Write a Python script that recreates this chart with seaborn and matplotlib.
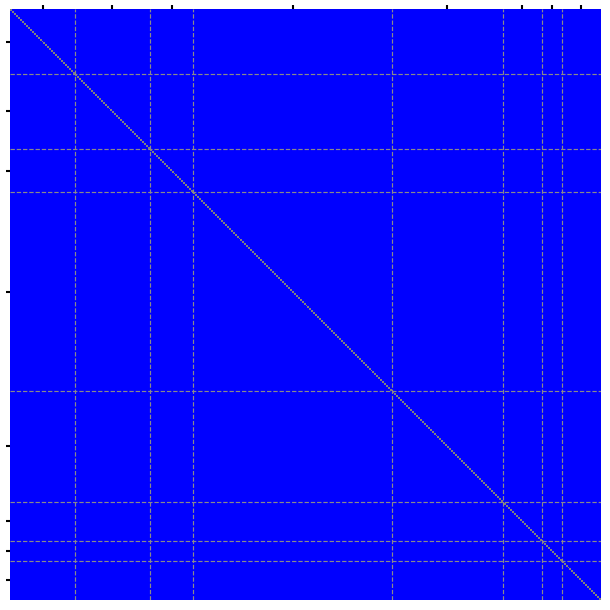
import numpy as np
import matplotlib
matplotlib.use("Agg")
import matplotlib.pyplot as plt
from matplotlib.colors import ListedColormap
import seaborn as sns

# Block (group) sizes along both axes
group_sizes = [33, 38, 22, 101, 56, 20, 10, 20]
# Colours: off-diagonal value 0, diagonal value 1
cell_colors = ["#0000ff", "#808080"]

n = sum(group_sizes)
matrix = np.eye(n)

bounds = np.cumsum(group_sizes)
starts = np.concatenate([[0], bounds[:-1]])
centers = (starts + bounds) / 2.0

fig = plt.figure(figsize=(6.1, 6.1), dpi=100)
ax = fig.add_axes([10 / 610, 10 / 610, 591 / 610, 591 / 610])

sns.heatmap(matrix, cmap=ListedColormap(cell_colors), vmin=0, vmax=1,
            cbar=False, ax=ax, xticklabels=False, yticklabels=False,
            square=False)

for b in bounds[:-1]:
    ax.axvline(b, color="#8a8a8a", linestyle="--", linewidth=0.85)
    ax.axhline(b, color="#8a8a8a", linestyle="--", linewidth=0.85)

ax.set_xticks(centers)
ax.set_yticks(centers)
ax.set_xticklabels([])
ax.set_yticklabels([])
ax.xaxis.tick_top()
ax.tick_params(axis="both", length=3.2, width=1.5, color="black")

fig.savefig("out.png", dpi=100)
